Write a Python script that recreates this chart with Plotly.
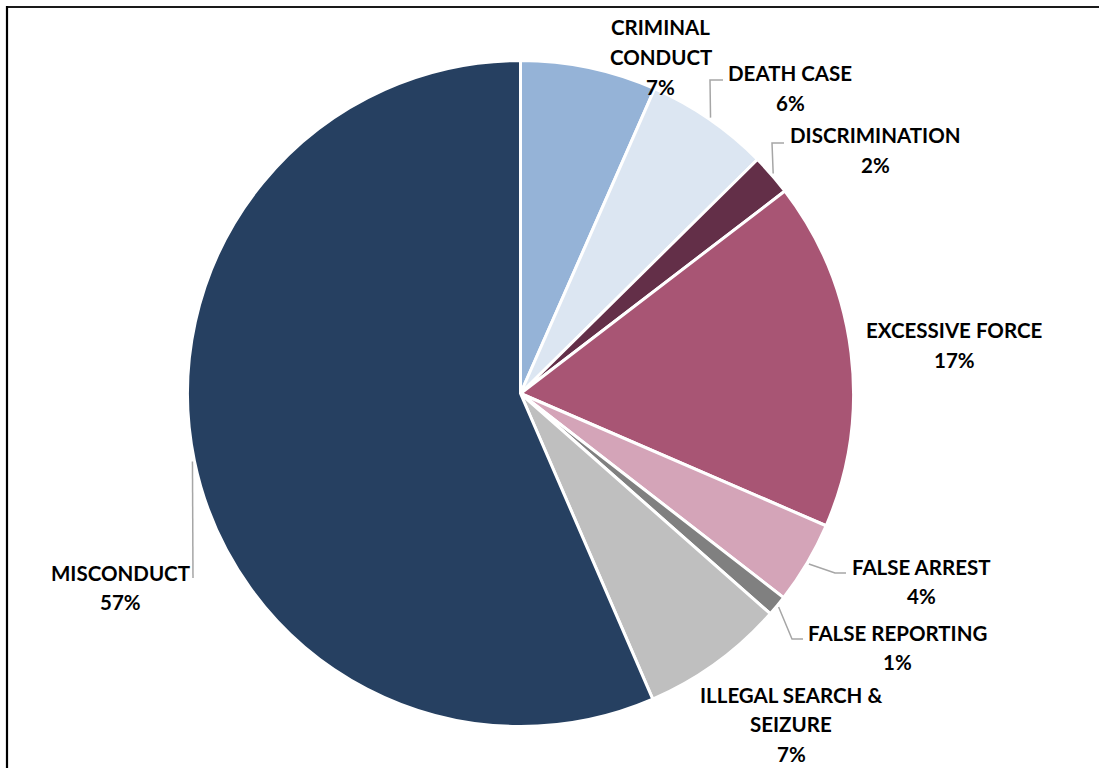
import math
import plotly.graph_objects as go

# ---------------- data ----------------
categories = ["CRIMINAL CONDUCT", "DEATH CASE", "DISCRIMINATION", "EXCESSIVE FORCE",
              "FALSE ARREST", "FALSE REPORTING", "ILLEGAL SEARCH & SEIZURE", "MISCONDUCT"]
shares = [6.6, 6.0, 2.0, 16.9, 4.0, 1.0, 7.0, 56.5]
label_lines = [["CRIMINAL", "CONDUCT"], ["DEATH CASE"], ["DISCRIMINATION"], ["EXCESSIVE FORCE"],
               ["FALSE ARREST"], ["FALSE REPORTING"], ["ILLEGAL SEARCH &", "SEIZURE"], ["MISCONDUCT"]]
colors = ["#95B3D7", "#DCE6F2", "#632F48", "#A85574", "#D4A4B8", "#808080", "#BFBFBF", "#264061"]

# ---------------- layout constants (pixels) ----------------
W, H = 1099, 768
CX, CY, R = 520.5, 393.5, 333.0
LINE_GAP = 29.8
# label block: (center x, first line center y)
label_pos = [(661, 27), (790, 73), (875.5, 135.5), (954, 330),
             (921, 566.5), (897.5, 632.5), (791, 694.5), (120, 572.5)]
# leader lines: list of (elbow, end) points, or None
leaders = [None, [(710, 80), (723, 80)], [(772, 143), (784, 143)], None,
           [(835, 573), (846, 573)], [(792, 639), (803, 639)], None, [(193, 578)]]


def px(x):
    return x / W


def py(y):
    return 1 - y / H


total = sum(shares)
pcts = [f"{int(round(v / total * 100, 6) + 0.5)}%" for v in shares]

fig = go.Figure(go.Pie(
    labels=categories, values=shares, sort=False, direction="clockwise", rotation=0,
    marker=dict(colors=colors, line=dict(color="white", width=3)),
    textinfo="none", hoverinfo="label+percent", showlegend=False,
    domain=dict(x=[px(CX - R), px(CX + R)], y=[py(CY + R), py(CY - R)]),
))

annotations = []
shapes = []
cum = 0.0
for i, v in enumerate(shares):
    mid = (cum + v / 2) / total * 2 * math.pi
    cum += v
    lines = label_lines[i] + [pcts[i]]
    lx, ly = label_pos[i]
    for k, t in enumerate(lines):
        annotations.append(dict(
            x=px(lx), y=py(ly + k * LINE_GAP), xref="paper", yref="paper",
            text=t, showarrow=False, xanchor="center", yanchor="middle",
            font=dict(family="Lato", size=20.5, color="#000000", weight="bold"),
        ))
    if leaders[i]:
        sx = CX + (R + 2) * math.sin(mid)
        sy = CY - (R + 2) * math.cos(mid)
        pts = [(sx, sy)] + leaders[i]
        path = "M " + " L ".join(f"{px(a):.5f},{py(b):.5f}" for a, b in pts)
        shapes.append(dict(type="path", path=path, xref="paper", yref="paper",
                           line=dict(color="#A6A6A6", width=1.5)))

# frame (top and left edges visible)
shapes.append(dict(type="line", xref="paper", yref="paper", x0=px(7), x1=px(W + 5),
                   y0=py(7), y1=py(7), line=dict(color="#1a1a1a", width=2.2)))
shapes.append(dict(type="line", xref="paper", yref="paper", x0=px(7), x1=px(7),
                   y0=py(6), y1=py(H + 5), line=dict(color="#000000", width=2.2)))

fig.update_layout(
    width=W, height=H, margin=dict(l=0, r=0, t=0, b=0),
    paper_bgcolor="white", plot_bgcolor="white",
    annotations=annotations, shapes=shapes,
)

fig.write_html("out.html")
